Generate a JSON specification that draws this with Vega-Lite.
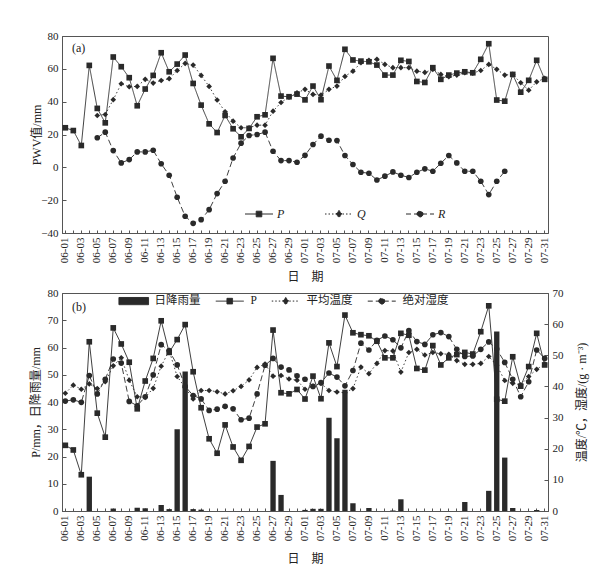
{
  "$schema": "https://vega.github.io/schema/vega-lite/v6.json",
  "background": "white",
  "padding": {"top": 29, "left": 28, "right": 5, "bottom": 5},
  "spacing": 3,
  "data": {"values": [
    {"date":"06-01","P":24.1,"Q":null,"R":null,"rain":0,"temp":37.8,"hum":35.3},
    {"date":"06-02","P":22.4,"Q":null,"R":null,"rain":0,"temp":40.4,"hum":35.7},
    {"date":"06-03","P":13.3,"Q":null,"R":null,"rain":0,"temp":39.1,"hum":34.9},
    {"date":"06-04","P":62.1,"Q":null,"R":null,"rain":12.6,"temp":40.8,"hum":43.5},
    {"date":"06-05","P":35.9,"Q":31.6,"R":18.0,"rain":0,"temp":39.3,"hum":37.6},
    {"date":"06-06","P":27.1,"Q":32.2,"R":21.4,"rain":0,"temp":41.5,"hum":42.3},
    {"date":"06-07","P":67.2,"Q":41.2,"R":10.2,"rain":0.9,"temp":46.6,"hum":48.8},
    {"date":"06-08","P":61.3,"Q":50.9,"R":2.7,"rain":0,"temp":49.2,"hum":47.5},
    {"date":"06-09","P":54.6,"Q":49.1,"R":4.7,"rain":0,"temp":42.0,"hum":35.2},
    {"date":"06-10","P":37.5,"Q":49.3,"R":9.4,"rain":1.2,"temp":36.7,"hum":33.8},
    {"date":"06-11","P":47.7,"Q":53.6,"R":9.4,"rain":1.0,"temp":36.5,"hum":36.7},
    {"date":"06-12","P":56.0,"Q":51.3,"R":10.4,"rain":0,"temp":39.4,"hum":43.7},
    {"date":"06-13","P":69.8,"Q":52.9,"R":2.2,"rain":2.2,"temp":46.5,"hum":53.4},
    {"date":"06-14","P":58.2,"Q":54.0,"R":-4.8,"rain":0.7,"temp":51.5,"hum":51.5},
    {"date":"06-15","P":62.9,"Q":59.0,"R":-18.2,"rain":30.0,"temp":43.2,"hum":46.9},
    {"date":"06-16","P":68.4,"Q":63.3,"R":-29.8,"rain":51.2,"temp":39.6,"hum":40.0},
    {"date":"06-17","P":51.1,"Q":62.3,"R":-34.1,"rain":0.7,"temp":36.0,"hum":37.1},
    {"date":"06-18","P":37.9,"Q":56.0,"R":-31.9,"rain":0.5,"temp":38.7,"hum":36.0},
    {"date":"06-19","P":26.5,"Q":49.3,"R":-25.8,"rain":0,"temp":38.7,"hum":32.3},
    {"date":"06-20","P":21.2,"Q":41.0,"R":-16.0,"rain":0,"temp":38.3,"hum":32.7},
    {"date":"06-21","P":31.6,"Q":33.8,"R":-8.5,"rain":0,"temp":37.6,"hum":33.6},
    {"date":"06-22","P":23.5,"Q":28.1,"R":5.7,"rain":0,"temp":38.6,"hum":32.8},
    {"date":"06-23","P":18.6,"Q":24.1,"R":14.7,"rain":0,"temp":40.0,"hum":29.3},
    {"date":"06-24","P":23.7,"Q":24.1,"R":19.4,"rain":0,"temp":42.1,"hum":29.8},
    {"date":"06-25","P":30.8,"Q":25.7,"R":20.0,"rain":0,"temp":46.1,"hum":37.6},
    {"date":"06-26","P":32.0,"Q":25.7,"R":21.4,"rain":0,"temp":47.2,"hum":46.8},
    {"date":"06-27","P":66.4,"Q":34.2,"R":9.8,"rain":18.4,"temp":43.3,"hum":49.0},
    {"date":"06-28","P":43.4,"Q":39.5,"R":4.1,"rain":5.9,"temp":43.5,"hum":46.2},
    {"date":"06-29","P":43.0,"Q":42.8,"R":4.1,"rain":0,"temp":42.4,"hum":45.3},
    {"date":"06-30","P":44.6,"Q":45.4,"R":3.1,"rain":0,"temp":42.0,"hum":43.4},
    {"date":"07-01","P":41.1,"Q":47.5,"R":7.3,"rain":0.4,"temp":39.1,"hum":42.3},
    {"date":"07-02","P":49.5,"Q":44.4,"R":13.9,"rain":0.8,"temp":40.0,"hum":40.0},
    {"date":"07-03","P":41.2,"Q":44.0,"R":19.0,"rain":0.8,"temp":41.0,"hum":41.2},
    {"date":"07-04","P":61.7,"Q":47.5,"R":16.5,"rain":34.2,"temp":38.7,"hum":44.3},
    {"date":"07-05","P":53.0,"Q":49.5,"R":16.3,"rain":26.7,"temp":38.2,"hum":43.0},
    {"date":"07-06","P":71.9,"Q":55.4,"R":7.2,"rain":44.5,"temp":38.0,"hum":40.2},
    {"date":"07-07","P":65.4,"Q":58.6,"R":1.7,"rain":2.8,"temp":39.3,"hum":45.1},
    {"date":"07-08","P":64.7,"Q":63.7,"R":-3.0,"rain":0,"temp":46.2,"hum":53.9},
    {"date":"07-09","P":64.3,"Q":65.2,"R":-3.6,"rain":1.1,"temp":44.1,"hum":51.7},
    {"date":"07-10","P":62.3,"Q":65.8,"R":-7.7,"rain":0,"temp":47.4,"hum":54.8},
    {"date":"07-11","P":56.2,"Q":62.7,"R":-5.4,"rain":0,"temp":51.5,"hum":56.2},
    {"date":"07-12","P":56.2,"Q":60.7,"R":-2.8,"rain":0.2,"temp":51.4,"hum":55.0},
    {"date":"07-13","P":65.2,"Q":60.7,"R":-4.8,"rain":4.3,"temp":44.6,"hum":52.4},
    {"date":"07-14","P":64.5,"Q":60.7,"R":-6.2,"rain":0,"temp":50.9,"hum":57.9},
    {"date":"07-15","P":52.3,"Q":58.6,"R":-3.0,"rain":0,"temp":51.9,"hum":54.4},
    {"date":"07-16","P":51.7,"Q":57.8,"R":-0.9,"rain":0,"temp":50.1,"hum":53.5},
    {"date":"07-17","P":60.7,"Q":59.7,"R":-2.4,"rain":0,"temp":50.9,"hum":56.6},
    {"date":"07-18","P":53.6,"Q":56.6,"R":2.5,"rain":0,"temp":50.5,"hum":57.3},
    {"date":"07-19","P":56.2,"Q":55.2,"R":7.2,"rain":0,"temp":50.3,"hum":56.0},
    {"date":"07-20","P":57.4,"Q":56.2,"R":2.7,"rain":0,"temp":48.3,"hum":51.9},
    {"date":"07-21","P":58.2,"Q":57.6,"R":-2.4,"rain":3.3,"temp":47.1,"hum":49.6},
    {"date":"07-22","P":57.6,"Q":57.4,"R":-2.4,"rain":0,"temp":47.1,"hum":49.8},
    {"date":"07-23","P":65.8,"Q":59.0,"R":-8.5,"rain":0,"temp":47.4,"hum":51.9},
    {"date":"07-24","P":75.3,"Q":62.7,"R":-16.6,"rain":7.4,"temp":49.6,"hum":54.3},
    {"date":"07-25","P":41.0,"Q":59.7,"R":-8.5,"rain":65.9,"temp":46.8,"hum":52.0},
    {"date":"07-26","P":40.3,"Q":56.2,"R":-2.4,"rain":19.6,"temp":41.9,"hum":47.7},
    {"date":"07-27","P":56.6,"Q":56.6,"R":null,"rain":1.1,"temp":41.0,"hum":42.3},
    {"date":"07-28","P":45.8,"Q":51.5,"R":null,"rain":0,"temp":40.5,"hum":36.7},
    {"date":"07-29","P":53.0,"Q":47.0,"R":null,"rain":0,"temp":43.2,"hum":41.5},
    {"date":"07-30","P":65.2,"Q":52.1,"R":null,"rain":0.4,"temp":45.5,"hum":51.7},
    {"date":"07-31","P":53.6,"Q":54.2,"R":null,"rain":0,"temp":47.2,"hum":49.0}
  ]},
  "vconcat": [
    {
      "width": 486,
      "height": 197,
      "title": {"text": "(a)", "anchor": "start", "frame": "group", "orient": "top", "offset": -19, "dx": 10, "dy": 11, "baseline": "middle", "fontSize": 12, "fontWeight": "normal", "font": "Liberation Serif", "color": "#222"},
      "layer": [
        {
          "transform": [{"fold": ["P", "Q", "R"], "as": ["series", "value"]}],
          "layer": [
            {
              "mark": {"type": "line", "color": "#2a2a2a", "strokeWidth": 0.9},
              "encoding": {
                "x": {"field": "date", "type": "ordinal", "scale": {"type": "band", "paddingInner": 0.33, "paddingOuter": 0.08},
                      "axis": {"title": "日\u3000期", "labelAngle": -90, "labelExpr": "toNumber(slice(datum.label,3)) % 2 == 1 ? datum.label : ''", "labelOverlap": false, "tickSize": -3, "labelPadding": 7, "titleY": 43, "titleBaseline": "middle"}},
                "y": {"field": "value", "type": "quantitative", "scale": {"domain": [-40, 80], "nice": false},
                      "axis": {"title": "PWV值/mm", "values": [-40, -20, 0, 20, 40, 60, 80], "tickSize": -4, "labelPadding": 8, "titleX": -26, "titleAngle": 270, "titleBaseline": "middle"}},
                "strokeDash": {"field": "series", "type": "nominal", "scale": {"domain": ["P", "Q", "R"], "range": [[1, 0], [1.5, 2.5], [6, 3]]}, "legend": null},
                "detail": {"field": "series"}
              }
            },
            {
              "mark": {"type": "point", "filled": true, "color": "#2a2a2a", "opacity": 1, "size": 32},
              "encoding": {
                "x": {"field": "date", "type": "ordinal", "scale": {"type": "band", "paddingInner": 0.33, "paddingOuter": 0.08},
                      "axis": {"title": "日\u3000期", "labelAngle": -90, "labelExpr": "toNumber(slice(datum.label,3)) % 2 == 1 ? datum.label : ''", "labelOverlap": false, "tickSize": -3, "labelPadding": 7, "titleY": 43, "titleBaseline": "middle"}},
                "y": {"field": "value", "type": "quantitative", "scale": {"domain": [-40, 80], "nice": false},
                      "axis": {"title": "PWV值/mm", "values": [-40, -20, 0, 20, 40, 60, 80], "tickSize": -4, "labelPadding": 8, "titleX": -26, "titleAngle": 270, "titleBaseline": "middle"}},
                "shape": {"field": "series", "type": "nominal", "scale": {"domain": ["P", "Q", "R"], "range": ["square", "diamond", "circle"]}, "legend": null}
              }
            }
          ]
        },
        {
          "transform": [{"filter": "false"}],
          "mark": {"type": "point", "filled": false, "fill": "#2a2a2a", "stroke": "#2a2a2a", "strokeWidth": 1, "size": 64, "opacity": 1},
          "encoding": {
            "shape": {"field": "series", "type": "nominal",
                      "scale": {"domain": ["P", "Q", "R"], "range": ["M-3.5,0H3.5M-0.7,-0.7H0.7V0.7H-0.7Z", "M-3.5,0H3.5M0,-0.9L0.75,0L0,0.9L-0.75,0Z", "M-3.5,0H3.5M0.75,0A0.75,0.75,0,1,1,-0.75,0A0.75,0.75,0,1,1,0.75,0Z"]},
                      "legend": {"title": null, "orient": "none", "legendX": 191, "legendY": 172, "direction": "horizontal", "symbolSize": 64, "labelOffset": 12, "columnPadding": 38, "labelFontStyle": "italic", "labelFontSize": 12}},
            "strokeDash": {"field": "series", "type": "nominal",
                      "scale": {"domain": ["P", "Q", "R"], "range": [[1, 0], [1.5, 2], [5, 3]]},
                      "legend": {"title": null, "orient": "none", "legendX": 191, "legendY": 172, "direction": "horizontal", "symbolSize": 64, "labelOffset": 12, "columnPadding": 38, "labelFontStyle": "italic", "labelFontSize": 12}}
          }
        }
      ],
      "resolve": {"scale": {"shape": "independent", "strokeDash": "independent"}}
    },
    {
      "width": 486,
      "height": 218,
      "title": {"text": "(b)", "anchor": "start", "frame": "group", "orient": "top", "offset": -21, "dx": 10, "dy": 11, "baseline": "middle", "fontSize": 12, "fontWeight": "normal", "font": "Liberation Serif", "color": "#222"},
      "layer": [
        {
          "transform": [{"fold": ["temp", "hum"], "as": ["series", "value"]}],
          "layer": [
            {
              "mark": {"type": "line", "color": "#2a2a2a", "strokeWidth": 0.9},
              "encoding": {
                "x": {"field": "date", "type": "ordinal", "scale": {"type": "band", "paddingInner": 0.33, "paddingOuter": 0.08},
                      "axis": {"title": "日\u3000期", "labelAngle": -90, "labelExpr": "toNumber(slice(datum.label,3)) % 2 == 1 ? datum.label : ''", "labelOverlap": false, "tickSize": -3, "labelPadding": 7, "titleY": 47, "titleBaseline": "middle"}},
                "y": {"field": "value", "type": "quantitative", "scale": {"domain": [0, 70], "nice": false},
                      "axis": {"orient": "right", "title": "温度/℃，湿度/(g · m⁻³)", "values": [0, 10, 20, 30, 40, 50, 60, 70], "tickSize": -4, "labelPadding": 8, "titleX": 33, "titleAngle": 270, "titleBaseline": "middle"}},
                "strokeDash": {"field": "series", "type": "nominal", "scale": {"domain": ["temp", "hum"], "range": [[1.5, 2.5], [6, 3]]}, "legend": null},
                "detail": {"field": "series"}
              }
            },
            {
              "mark": {"type": "point", "filled": true, "color": "#2a2a2a", "opacity": 1, "size": 32},
              "encoding": {
                "x": {"field": "date", "type": "ordinal", "scale": {"type": "band", "paddingInner": 0.33, "paddingOuter": 0.08},
                      "axis": {"title": "日\u3000期", "labelAngle": -90, "labelExpr": "toNumber(slice(datum.label,3)) % 2 == 1 ? datum.label : ''", "labelOverlap": false, "tickSize": -3, "labelPadding": 7, "titleY": 47, "titleBaseline": "middle"}},
                "y": {"field": "value", "type": "quantitative", "scale": {"domain": [0, 70], "nice": false},
                      "axis": {"orient": "right", "title": "温度/℃，湿度/(g · m⁻³)", "values": [0, 10, 20, 30, 40, 50, 60, 70], "tickSize": -4, "labelPadding": 8, "titleX": 33, "titleAngle": 270, "titleBaseline": "middle"}},
                "shape": {"field": "series", "type": "nominal", "scale": {"domain": ["temp", "hum"], "range": ["diamond", "circle"]}, "legend": null}
              }
            }
          ]
        },
        {
          "layer": [
            {
              "mark": {"type": "line", "color": "#2a2a2a", "strokeWidth": 0.9},
              "encoding": {
                "x": {"field": "date", "type": "ordinal", "scale": {"type": "band", "paddingInner": 0.33, "paddingOuter": 0.08},
                      "axis": {"title": "日\u3000期", "labelAngle": -90, "labelExpr": "toNumber(slice(datum.label,3)) % 2 == 1 ? datum.label : ''", "labelOverlap": false, "tickSize": -3, "labelPadding": 7, "titleY": 47, "titleBaseline": "middle"}},
                "y": {"field": "P", "type": "quantitative", "scale": {"domain": [0, 80], "nice": false},
                      "axis": {"orient": "left", "title": "P/mm，日降雨量/mm", "values": [0, 10, 20, 30, 40, 50, 60, 70, 80], "tickSize": -4, "labelPadding": 8, "titleX": -27, "titleAngle": 270, "titleBaseline": "middle"}}
              }
            },
            {
              "mark": {"type": "point", "shape": "square", "filled": true, "color": "#2a2a2a", "opacity": 1, "size": 32},
              "encoding": {
                "x": {"field": "date", "type": "ordinal", "scale": {"type": "band", "paddingInner": 0.33, "paddingOuter": 0.08},
                      "axis": {"title": "日\u3000期", "labelAngle": -90, "labelExpr": "toNumber(slice(datum.label,3)) % 2 == 1 ? datum.label : ''", "labelOverlap": false, "tickSize": -3, "labelPadding": 7, "titleY": 47, "titleBaseline": "middle"}},
                "y": {"field": "P", "type": "quantitative", "scale": {"domain": [0, 80], "nice": false},
                      "axis": {"orient": "left", "title": "P/mm，日降雨量/mm", "values": [0, 10, 20, 30, 40, 50, 60, 70, 80], "tickSize": -4, "labelPadding": 8, "titleX": -27, "titleAngle": 270, "titleBaseline": "middle"}}
              }
            },
            {
              "mark": {"type": "bar", "color": "#2a2a2a"},
              "encoding": {
                "x": {"field": "date", "type": "ordinal", "scale": {"type": "band", "paddingInner": 0.33, "paddingOuter": 0.08},
                      "axis": {"title": "日\u3000期", "labelAngle": -90, "labelExpr": "toNumber(slice(datum.label,3)) % 2 == 1 ? datum.label : ''", "labelOverlap": false, "tickSize": -3, "labelPadding": 7, "titleY": 47, "titleBaseline": "middle"}},
                "y": {"field": "rain", "type": "quantitative", "scale": {"domain": [0, 80], "nice": false},
                      "axis": {"orient": "left", "title": "P/mm，日降雨量/mm", "values": [0, 10, 20, 30, 40, 50, 60, 70, 80], "tickSize": -4, "labelPadding": 8, "titleX": -27, "titleAngle": 270, "titleBaseline": "middle"}}
              }
            }
          ]
        },
        {
          "transform": [{"filter": "false"}],
          "mark": {"type": "point", "filled": false, "fill": "#2a2a2a", "stroke": "#2a2a2a", "strokeWidth": 1, "size": 64, "opacity": 1},
          "encoding": {
            "shape": {"field": "series", "type": "nominal",
                      "scale": {"domain": ["日降雨量", "P", "平均温度", "绝对湿度"], "range": ["M-3.7,-0.9H3.7V0.9H-3.7Z", "M-3.5,0H3.5M-0.7,-0.7H0.7V0.7H-0.7Z", "M-3.5,0H3.5M0,-0.9L0.75,0L0,0.9L-0.75,0Z", "M-3.5,0H3.5M0.75,0A0.75,0.75,0,1,1,-0.75,0A0.75,0.75,0,1,1,0.75,0Z"]},
                      "legend": {"title": null, "orient": "none", "legendX": 66, "legendY": 2, "direction": "horizontal", "symbolSize": 64, "labelOffset": 15, "columnPadding": 12, "labelFontSize": 11.5}},
            "strokeDash": {"field": "series", "type": "nominal",
                      "scale": {"domain": ["日降雨量", "P", "平均温度", "绝对湿度"], "range": [[1, 0], [1, 0], [1.5, 2], [5, 3]]},
                      "legend": {"title": null, "orient": "none", "legendX": 66, "legendY": 2, "direction": "horizontal", "symbolSize": 64, "labelOffset": 15, "columnPadding": 12, "labelFontSize": 11.5}}
          }
        }
      ],
      "resolve": {"scale": {"y": "independent", "shape": "independent", "strokeDash": "independent"}}
    }
  ],
  "config": {
    "font": "Liberation Serif",
    "view": {"stroke": "#555", "strokeWidth": 1},
    "axis": {"labelFont": "Liberation Serif", "labelFontSize": 11, "labelColor": "#222", "titleFont": "Liberation Serif, Noto Sans CJK SC", "titleFontSize": 12, "titleFontWeight": "normal", "titleColor": "#222", "domainColor": "#555", "tickColor": "#555", "grid": false},
    "legend": {"labelFont": "Liberation Serif, Noto Sans CJK SC", "labelColor": "#222", "padding": 0, "symbolStrokeWidth": 1}
  }
}
